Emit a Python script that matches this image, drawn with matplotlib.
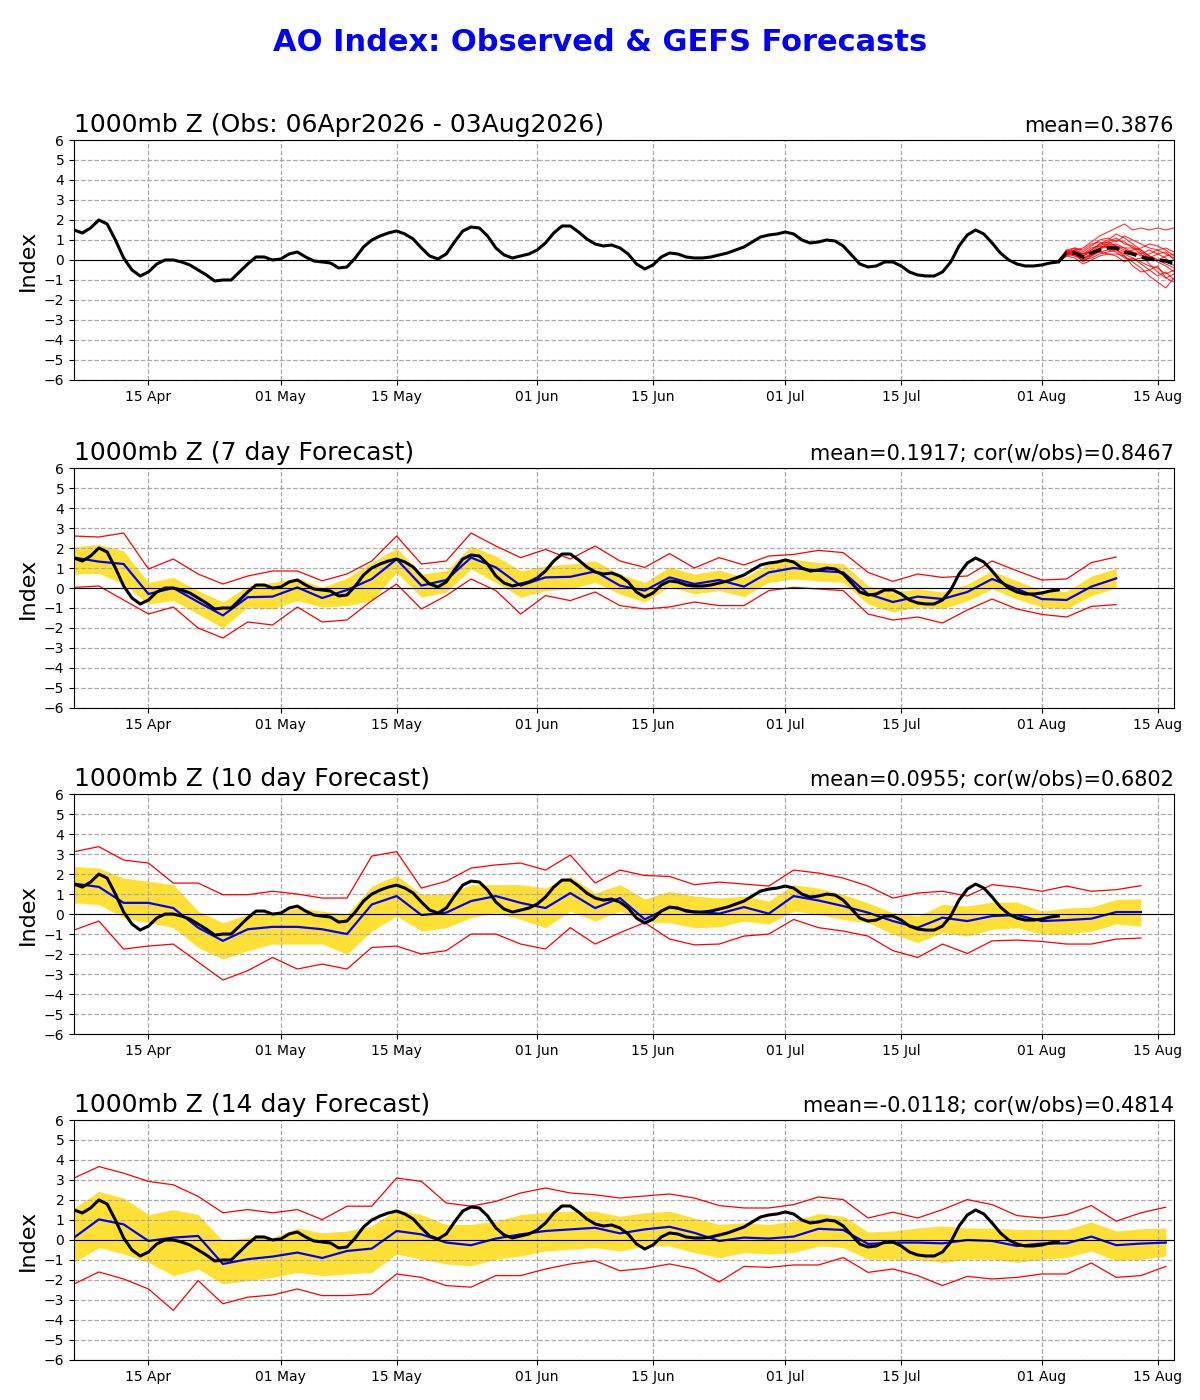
import datetime as dt

import matplotlib
matplotlib.use("Agg")
import matplotlib.dates as mdates
import matplotlib.pyplot as plt
import numpy as np

START = dt.date(2026, 4, 6)

# observed AO index, daily 06 Apr .. 03 Aug
obs = [1.5, 1.35, 1.6, 2.0, 1.8, 1.0, 0.1, -0.5, -0.8, -0.6,
       -0.2, 0.0, 0.0, -0.1, -0.25, -0.5, -0.75, -1.05, -1.0, -1.0,
       -0.6, -0.2, 0.15, 0.15, 0.0,
       0.05, 0.3, 0.4, 0.15, -0.05, -0.1, -0.15, -0.4, -0.35, 0.1,
       0.65, 1.0, 1.2, 1.35, 1.45, 1.3, 1.05, 0.6, 0.2, 0.05,
       0.3, 0.9, 1.45, 1.65, 1.6, 1.2, 0.6, 0.25, 0.1, 0.2, 0.3,
       0.5, 0.85, 1.35, 1.7, 1.7, 1.4, 1.05, 0.8, 0.7, 0.75,
       0.6, 0.3, -0.2, -0.45, -0.25, 0.15, 0.35, 0.3, 0.15, 0.1,
       0.1, 0.15, 0.25, 0.35, 0.5, 0.65, 0.9, 1.15, 1.25, 1.3,
       1.4, 1.3, 1.0, 0.85, 0.9, 1.0, 0.95, 0.7, 0.25, -0.2,
       -0.35, -0.3, -0.1, -0.1, -0.3, -0.6, -0.75, -0.8, -0.8, -0.6,
       -0.1, 0.7, 1.25, 1.5, 1.3, 0.85, 0.35, 0.0, -0.2, -0.3, -0.3,
       -0.25, -0.15, -0.1]

# GEFS ensemble mean forecast for 04 Aug .. 17 Aug
ens_mean = [0.37, 0.35, 0.15, 0.35, 0.5, 0.6, 0.6, 0.4, 0.3, 0.15, 0.05, 0.0, -0.05, -0.2]
members = [
    [0.3, 0.5, 0.6, 0.9, 1.2, 1.4, 1.6, 1.8, 1.5, 1.6, 1.5, 1.6, 1.5, 1.6],
    [0.4, 0.6, 0.4, 0.7, 1.0, 1.1, 0.9, 1.2, 1.0, 0.8, 0.6, 0.5, 0.3, 0.1],
    [0.2, 0.3, -0.1, 0.2, 0.5, 0.8, 1.0, 0.9, 0.6, 0.3, -0.2, -0.6, -0.9, -1.1],
    [0.5, 0.4, 0.2, 0.5, 0.8, 0.9, 0.7, 0.5, 0.4, 0.2, 0.3, 0.5, 0.6, 0.4],
    [0.3, 0.2, 0.0, 0.1, 0.3, 0.4, 0.5, 0.2, -0.1, -0.4, -0.8, -1.1, -1.4, -0.9],
    [0.4, 0.5, 0.3, 0.4, 0.6, 0.7, 0.8, 0.6, 0.6, 0.5, 0.2, -0.1, -0.3, -0.6],
    [0.3, 0.3, 0.1, 0.3, 0.4, 0.5, 0.4, 0.1, 0.0, 0.1, 0.2, 0.0, -0.2, -0.4],
    [0.5, 0.6, 0.5, 0.8, 0.9, 0.7, 0.6, 0.4, 0.5, 0.6, 0.8, 0.7, 0.5, 0.2],
    [0.2, 0.1, -0.2, 0.0, 0.2, 0.3, 0.3, 0.2, -0.3, -0.6, -0.5, -0.8, -0.6, -1.0],
    [0.4, 0.4, 0.3, 0.6, 0.7, 0.9, 1.1, 0.8, 0.7, 0.4, 0.1, 0.3, 0.1, -0.3],
    [0.3, 0.4, 0.2, 0.4, 0.7, 0.6, 0.5, 0.3, 0.1, -0.1, -0.3, -0.4, -0.7, -0.5],
    [0.4, 0.3, 0.0, 0.3, 0.6, 0.8, 0.7, 0.6, 0.4, 0.3, 0.5, 0.3, 0.4, 0.0],
    [0.3, 0.5, 0.3, 0.5, 0.8, 1.0, 1.3, 1.1, 0.8, 0.5, 0.2, 0.0, 0.2, 0.3],
    [0.4, 0.2, 0.1, 0.2, 0.4, 0.3, 0.2, -0.1, 0.1, -0.2, -0.5, -0.3, -0.9, -0.7],
]

# forecast panels, sampled every 3 days from 06 Apr
f7_mean = [1.52, 1.32, 1.2, -0.3, 0.0, -0.7, -1.37, -0.46, -0.43, 0.03, -0.5, -0.1, 0.45, 1.44,
           0.12, 0.4, 1.52, 1.03, 0.12, 0.53, 0.56, 0.83, 0.12, -0.13, 0.53, 0.2, 0.4, 0.07,
           0.78, 1.0, 0.86, 0.78, -0.3, -0.7, -0.43, -0.55, -0.2, 0.45, -0.05, -0.55, -0.6, 0.07, 0.48]
f7_shi = [2.05, 2.18, 1.85, 0.28, 0.53, -0.13, -0.7, 0.1, 0.28, 0.5, 0.03, 0.5, 1.27, 2.0,
          0.7, 0.86, 2.1, 1.6, 0.86, 1.1, 1.2, 1.35, 0.7, 0.28, 1.05, 0.7, 0.9, 0.53,
          1.2, 1.44, 1.27, 1.22, 0.12, -0.2, -0.05, -0.2, 0.2, 0.86, 0.36, -0.13, -0.17, 0.6, 0.98]
f7_slo = [0.7, 0.73, 0.2, -0.8, -0.63, -1.3, -2.0, -0.95, -1.05, -0.63, -0.95, -0.88, -0.63, 0.78,
          -0.46, -0.2, 0.95, 0.28, -0.46, -0.13, -0.05, 0.28, -0.3, -0.7, 0.07, -0.3, -0.13, -0.43,
          0.28, 0.45, 0.36, 0.28, -0.8, -1.2, -0.95, -1.05, -0.63, -0.05, -0.55, -0.95, -1.05, -0.38, 0.0]
f7_max = [2.6, 2.55, 2.75, 0.95, 1.45, 0.7, 0.2, 0.6, 0.85, 0.85, 0.36, 0.7, 1.35, 2.6,
          1.2, 1.35, 2.75, 2.1, 1.52, 1.93, 1.45, 2.1, 1.35, 1.03, 1.72, 1.0, 1.52, 1.15,
          1.6, 1.68, 1.88, 1.77, 0.78, 0.33, 0.7, 0.53, 0.6, 1.35, 0.86, 0.4, 0.45, 1.27, 1.55]
f7_min = [0.03, 0.1, -0.6, -1.3, -0.95, -2.0, -2.5, -1.7, -1.85, -0.95, -1.7, -1.6, -0.63, 0.2,
          -1.05, -0.38, 0.45, -0.13, -1.3, -0.38, -0.63, -0.2, -0.88, -1.05, -0.95, -0.7, -0.88, -0.88,
          -0.13, 0.03, -0.05, -0.13, -1.3, -1.6, -1.45, -1.75, -1.1, -0.55, -1.05, -1.32, -1.45, -0.92, -0.83]

f10_mean = [1.52, 1.36, 0.56, 0.56, 0.3, -0.68, -1.34, -0.76, -0.64, -0.64, -0.76, -1.0, 0.48, 0.9,
            -0.05, 0.07, 0.65, 0.9, 0.56, 0.3, 1.05, 0.3, 0.8, -0.27, 0.35, 0.12, 0.02, 0.35,
            0.02, 0.9, 0.68, 0.4, 0.07, -0.35, -0.68, -0.18, -0.35, -0.1, -0.05, -0.35, -0.3, -0.23,
            0.1, 0.1]
f10_shi = [2.38, 2.3, 1.8, 1.64, 1.47, 0.15, -0.43, -0.02, 0.07, 0.3, 0.15, -0.02, 1.4, 1.94,
           0.98, 0.98, 1.47, 1.47, 1.47, 1.3, 1.9, 1.05, 1.47, 0.75, 1.14, 0.9, 0.8, 0.9,
           0.65, 1.47, 1.3, 0.98, 0.56, 0.07, -0.1, 0.48, 0.4, 0.6, 0.6, 0.15, 0.3, 0.35,
           0.73, 0.76]
f10_slo = [0.56, 0.48, -0.18, -0.43, -0.68, -1.67, -2.25, -1.83, -1.5, -1.5, -1.5, -2.0, -0.85, -0.1,
           -0.85, -0.68, -0.18, 0.07, -0.26, -0.68, 0.15, -0.35, 0.15, -0.4, -0.43, -0.68, -0.64, -0.35,
           -0.5, 0.15, -0.02, -0.27, -0.43, -1.0, -1.42, -0.93, -1.1, -0.76, -0.68, -1.0, -1.0, -0.85,
           -0.5, -0.6]
f10_max = [3.12, 3.37, 2.7, 2.55, 1.55, 1.55, 0.97, 0.97, 1.14, 1.0, 0.8, 0.8, 2.9, 3.12,
           1.3, 1.64, 2.3, 2.46, 2.55, 2.2, 2.95, 1.55, 2.2, 1.93, 1.88, 1.47, 1.6, 1.5,
           1.4, 2.2, 2.05, 1.8, 1.4, 0.8, 1.05, 1.14, 0.9, 1.47, 1.34, 1.14, 1.4, 1.14,
           1.22, 1.42]
f10_min = [-0.8, -0.35, -1.75, -1.6, -1.5, -2.4, -3.3, -2.83, -2.17, -2.75, -2.5, -2.75, -1.67, -1.6,
           -2.0, -1.83, -1.0, -1.0, -1.5, -1.75, -0.68, -1.5, -0.93, -0.43, -1.25, -1.54, -1.5, -1.1,
           -1.0, -0.27, -0.68, -0.85, -1.1, -1.83, -2.17, -1.5, -1.97, -1.34, -1.3, -1.37, -1.5, -1.5,
           -1.25, -1.2]

f14_mean = [0.12, 1.03, 0.78, -0.05, 0.12, 0.2, -1.2, -0.96, -0.83, -0.63, -0.9, -0.55, -0.43, 0.45,
            0.28, -0.13, -0.26, 0.07, 0.28, 0.45, 0.53, 0.61, 0.33, 0.53, 0.66, 0.36, -0.05, 0.12,
            0.07, 0.17, 0.56, 0.5, -0.2, -0.13, -0.13, -0.17, 0.0, -0.05, -0.3, -0.18, -0.17, 0.17,
            -0.26, -0.18, -0.13]
f14_shi = [1.6, 2.43, 2.1, 1.27, 1.52, 1.27, -0.05, 0.12, 0.12, 0.6, 0.36, 0.45, 0.7, 1.52,
           1.27, 0.78, 0.78, 0.94, 1.27, 1.39, 1.44, 1.44, 1.19, 1.36, 1.44, 1.1, 0.78, 0.86,
           0.78, 0.94, 1.32, 1.19, 0.4, 0.45, 0.6, 0.7, 0.6, 0.6, 0.53, 0.53, 0.53, 0.9,
           0.45, 0.56, 0.6]
f14_slo = [-1.12, -0.38, -0.7, -1.12, -1.78, -1.45, -2.2, -2.03, -1.87, -1.62, -1.78, -1.7, -1.62, -0.7,
           -0.96, -1.2, -1.29, -0.96, -0.8, -0.55, -0.46, -0.38, -0.55, -0.3, -0.3, -0.63, -0.88, -0.63,
           -0.7, -0.63, -0.3, -0.38, -0.96, -0.96, -0.96, -1.12, -0.96, -0.96, -1.12, -0.96, -0.88, -0.55,
           -1.04, -0.96, -0.8]
f14_max = [3.1, 3.67, 3.34, 2.93, 2.76, 2.18, 1.36, 1.52, 1.36, 1.52, 1.02, 1.69, 1.69, 3.1,
           2.93, 1.85, 1.69, 1.93, 2.35, 2.6, 2.35, 2.26, 2.1, 2.2, 2.3, 2.1, 1.72, 1.6,
           1.6, 1.77, 2.15, 2.02, 1.1, 1.39, 1.1, 1.52, 2.02, 1.77, 1.22, 1.1, 1.27, 1.72,
           0.94, 1.36, 1.64]
f14_min = [-2.2, -1.6, -1.95, -2.45, -3.52, -2.03, -3.19, -2.86, -2.75, -2.45, -2.78, -2.78, -2.7, -1.7,
           -1.87, -2.28, -2.36, -1.78, -1.78, -1.45, -1.2, -1.04, -1.54, -1.42, -1.2, -1.45, -2.1, -1.32,
           -1.37, -1.25, -1.25, -0.88, -1.62, -1.45, -1.78, -2.28, -1.82, -1.95, -1.87, -1.7, -1.7, -1.15,
           -1.87, -1.78, -1.32]

panels = [
    ("1000mb Z (7 day Forecast)", "mean=0.1917; cor(w/obs)=0.8467",
     f7_mean, f7_shi, f7_slo, f7_max, f7_min),
    ("1000mb Z (10 day Forecast)", "mean=0.0955; cor(w/obs)=0.6802",
     f10_mean, f10_shi, f10_slo, f10_max, f10_min),
    ("1000mb Z (14 day Forecast)", "mean=-0.0118; cor(w/obs)=0.4814",
     f14_mean, f14_shi, f14_slo, f14_max, f14_min),
]


def days(n, step=1, offset=0):
    return [START + dt.timedelta(days=offset + step * i) for i in range(n)]


def style(ax, left, right):
    ax.set_ylim(-6, 6)
    ax.set_yticks(range(-6, 7))
    ax.set_xlim(dt.date(2026, 4, 6), dt.date(2026, 8, 17))
    ax.xaxis.set_major_locator(mdates.DayLocator(bymonthday=[1, 15]))
    ax.xaxis.set_major_formatter(mdates.DateFormatter("%d %b"))
    ax.grid(True, ls="--", color="#aaaaaa", lw=0.9)
    ax.axhline(0, color="black", lw=0.8)
    ax.tick_params(labelsize=10)
    ax.set_ylabel("Index", fontsize=16)
    ax.set_title(left, loc="left", fontsize=18)
    ax.set_title(right, loc="right", fontsize=15)


fig = plt.figure(figsize=(12, 14), dpi=100)
fig.suptitle("AO Index: Observed & GEFS Forecasts", color="blue",
             fontsize=22, fontweight="bold", y=0.98)
bottoms = [0.7286, 0.4943, 0.2614, 0.0286]
axes = [fig.add_axes([0.0617, b, 0.9167, 0.1714]) for b in bottoms]

obs_dates = days(len(obs))

# panel 1: observations + ensemble
ax = axes[0]
ens_dates = days(len(ens_mean), offset=len(obs))
for m in members:
    ax.plot([obs_dates[-1]] + ens_dates, [obs[-1]] + m, color="red", lw=0.8, alpha=0.8)
ax.plot(obs_dates, obs, color="black", lw=2.2)
ax.plot([obs_dates[-1]] + ens_dates, [obs[-1]] + ens_mean, color="black", lw=2.5, ls="--")
style(ax, "1000mb Z (Obs: 06Apr2026 - 03Aug2026)", "mean=0.3876")

for ax, (left, right, mean, shi, slo, fmax, fmin) in zip(axes[1:], panels):
    fd = days(len(mean), step=3)
    ax.fill_between(fd, slo, shi, color="#FFE135", lw=0)
    ax.plot(fd, fmax, color="red", lw=0.9)
    ax.plot(fd, fmin, color="red", lw=0.9)
    ax.plot(fd, mean, color="blue", lw=1.6)
    ax.plot(obs_dates, obs, color="black", lw=2.2)
    style(ax, left, right)

fig.savefig("out.png", dpi=100)
